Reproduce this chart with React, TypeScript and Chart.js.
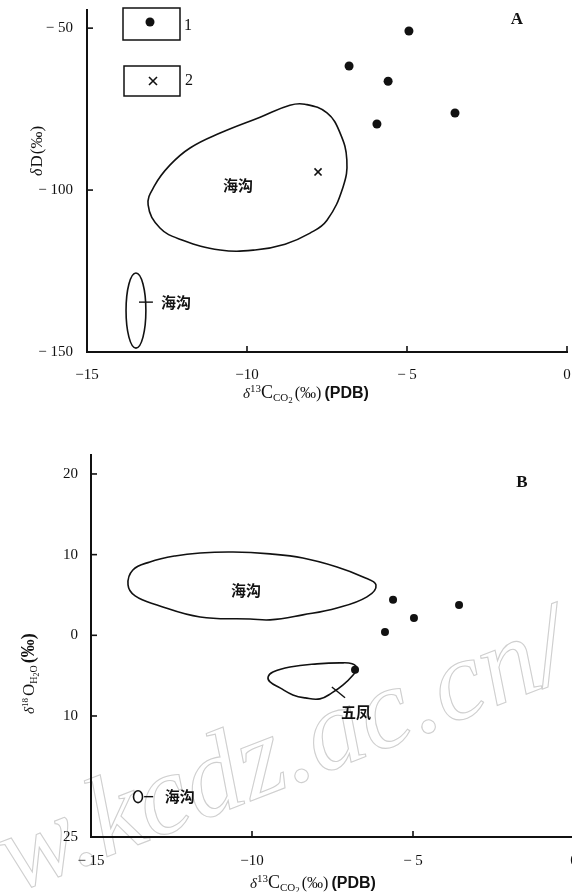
import React, { useEffect, useRef } from 'react';
import { Chart, registerables } from 'chart.js';

Chart.register(...registerables);

// ---------------- Panel A : δD vs δ13C(CO2) ----------------
const aXTicks = [-15, -10, -5, 0];
const aXTickLabels = ['−15', '−10', '− 5', '0'];
const aYTicks = [-150, -100, -50];
const aYTickLabels = ['− 150', '− 100', '− 50'];

// legend 1 : filled dots
const aDotX = [-4.94, -6.81, -5.59, -5.94, -3.5];
const aDotY = [-50.9, -61.7, -66.4, -79.6, -76.2];
// legend 2 : crosses
const aCrossX = [-7.78];
const aCrossY = [-94.4];

// outline of the large 海沟 field
const aFieldX = [-13.09, -12.88, -12.41, -11.78, -10.84, -9.59, -8.66, -8.19, -7.5, -7.09, -6.88, -7.0, -7.5, -8.03, -8.81, -9.75, -10.84, -12.03, -12.72];
const aFieldY = [-104.6, -98.5, -92.3, -87.0, -82.4, -77.5, -73.8, -73.5, -76.2, -82.4, -90.7, -99.1, -109.3, -113.3, -116.7, -118.5, -118.5, -115.4, -111.7];
// outline of the small 海沟 ellipse
const aSmallX = [-13.47, -13.25, -13.16, -13.25, -13.47, -13.69, -13.78, -13.69];
const aSmallY = [-125.6, -129.0, -137.2, -145.4, -148.8, -145.4, -137.2, -129.0];

const aLabels = [
  { text: '海沟', x: -10.28, y: -98.5 },
  { text: '海沟', x: -12.22, y: -134.6 },
];
const aLeaders = [{ x1: -13.375, y1: -134.6, x2: -12.94, y2: -134.6 }];

// ---------------- Panel B : δ18O(H2O) vs δ13C(CO2) ----------------
const bXTicks = [-15, -10, -5, 0];
const bXTickLabels = ['− 15', '−10', '− 5', '0'];
const bYTicks = [-25, -10, 0, 10, 20];
const bYTickLabels = ['25', '10', '0', '10', '20'];

const bDotX = [-5.62, -3.57, -4.97, -5.87, -6.8];
const bDotY = [4.4, 3.77, 2.15, 0.42, -4.28];

const bFieldX = [-13.85, -13.7, -13.17, -12.39, -11.61, -10.59, -9.44, -8.42, -7.36, -6.55, -6.15, -6.43, -7.36, -8.42, -9.44, -10.06, -11.61, -12.95, -13.63];
const bFieldY = [6.25, 8.1, 9.09, 9.84, 10.21, 10.33, 10.09, 9.59, 8.48, 7.24, 6.25, 4.76, 3.39, 2.53, 1.91, 2.03, 2.28, 3.77, 4.88];

const bWufengX = [-9.5, -9.35, -8.82, -7.98, -7.27, -6.89, -6.74, -6.86, -7.17, -7.52, -7.89, -8.35, -8.73, -9.13, -9.44];
const bWufengY = [-5.15, -4.54, -3.92, -3.54, -3.42, -3.54, -4.16, -4.91, -6.15, -7.14, -7.88, -7.76, -7.39, -6.52, -5.77];

const bSmallX = [-13.54, -13.44, -13.4, -13.44, -13.54, -13.64, -13.68, -13.64];
const bSmallY = [-19.26, -19.48, -20.0, -20.52, -20.74, -20.52, -20.0, -19.48];

const bLabels = [
  { text: '海沟', x: -10.19, y: 5.63 },
  { text: '五凤', x: -6.77, y: -9.6 },
  { text: '海沟', x: -12.24, y: -20.0 },
];
const bLeaders = [
  { x1: -7.52, y1: -6.4, x2: -7.11, y2: -7.75 },
  { x1: -13.35, y1: -20.0, x2: -13.07, y2: -20.0 },
];

const WATERMARK = 'www.kcdz.ac.cn/';

// ---------------- helpers ----------------
const SERIF = '"Liberation Serif", "DejaVu Serif", serif';
const SANS = '"Liberation Sans", Arial, sans-serif';
const CJK = '"Noto Sans CJK SC", sans-serif';
const INK = '#111';

const pts = (xs: number[], ys: number[]) => xs.map((x, i) => ({ x, y: ys[i] }));

function closedOutline(xs: number[], ys: number[]) {
  const p = pts(xs, ys);
  const data = [p[p.length - 1], ...p, p[0], p[1]];
  const last = data.length - 1;
  return {
    data,
    showLine: true,
    pointRadius: 0,
    pointHoverRadius: 0,
    borderColor: INK,
    borderWidth: 1.6,
    tension: 0.42,
    fill: false,
    segment: {
      borderColor: (ctx: any) =>
        ctx.p0DataIndex === 0 || ctx.p1DataIndex === last ? 'rgba(0,0,0,0)' : INK,
    },
  };
}

type Part = { t: string; f: string; dy?: number; gap?: number };
function drawRich(ctx: CanvasRenderingContext2D, parts: Part[], x: number, y: number) {
  let cx = x;
  ctx.textAlign = 'left';
  ctx.textBaseline = 'alphabetic';
  for (const p of parts) {
    ctx.font = p.f;
    ctx.fillText(p.t, cx, y + (p.dy || 0));
    cx += ctx.measureText(p.t).width + (p.gap || 0);
  }
}

const xTitleParts: Part[] = [
  { t: 'δ', f: `italic 15px ${SERIF}` },
  { t: '13', f: `11px ${SERIF}`, dy: -6 },
  { t: 'C', f: `18px ${SERIF}` },
  { t: 'CO', f: `11px ${SERIF}`, dy: 3 },
  { t: '2', f: `9px ${SERIF}`, dy: 5, gap: 2 },
  { t: '(‰)', f: `16px ${SERIF}`, gap: 3 },
  { t: '(PDB)', f: `bold 16px ${SANS}` },
];

function drawInnerTicks(chart: any) {
  const { ctx, chartArea, scales } = chart;
  ctx.save();
  ctx.strokeStyle = INK;
  ctx.lineWidth = 1.6;
  const xs = scales.x;
  const ys = scales.y;
  for (const t of xs.ticks) {
    if (t.value === xs.min) continue;
    const p = xs.getPixelForValue(t.value);
    ctx.beginPath();
    ctx.moveTo(p, chartArea.bottom);
    ctx.lineTo(p, chartArea.bottom - 6);
    ctx.stroke();
  }
  for (const t of ys.ticks) {
    if (t.value === ys.min) continue;
    const p = ys.getPixelForValue(t.value);
    ctx.beginPath();
    ctx.moveTo(chartArea.left, p);
    ctx.lineTo(chartArea.left + 6, p);
    ctx.stroke();
  }
  ctx.restore();
}

function drawLabels(chart: any, labels: any[], leaders: any[]) {
  const { ctx, scales } = chart;
  ctx.save();
  ctx.strokeStyle = INK;
  ctx.lineWidth = 1.4;
  for (const l of leaders) {
    ctx.beginPath();
    ctx.moveTo(scales.x.getPixelForValue(l.x1), scales.y.getPixelForValue(l.y1));
    ctx.lineTo(scales.x.getPixelForValue(l.x2), scales.y.getPixelForValue(l.y2));
    ctx.stroke();
  }
  ctx.fillStyle = INK;
  ctx.font = `bold 15px ${CJK}`;
  ctx.textAlign = 'center';
  ctx.textBaseline = 'middle';
  for (const l of labels) {
    ctx.fillText(l.text, scales.x.getPixelForValue(l.x), scales.y.getPixelForValue(l.y));
  }
  ctx.restore();
}

function baseOptions(o: any) {
  return {
    responsive: false,
    animation: false,
    events: [],
    layout: { padding: o.padding },
    plugins: { legend: { display: false }, tooltip: { enabled: false } },
    scales: {
      x: {
        type: 'linear',
        min: o.xMin,
        max: o.xMax,
        grid: { display: false },
        border: { display: true, color: INK, width: 2 },
        afterBuildTicks: (s: any) => {
          s.ticks = o.xTicks.map((v: number) => ({ value: v }));
        },
        afterFit: (s: any) => {
          s.height = o.xHeight;
          s.paddingLeft = 0;
          s.paddingRight = 0;
        },
        ticks: {
          autoSkip: false,
          maxRotation: 0,
          padding: o.xPad,
          color: INK,
          font: { family: SERIF, size: 15 },
          callback: (_v: any, i: number) => o.xLabels[i],
        },
      },
      y: {
        type: 'linear',
        min: o.yMin,
        max: o.yMax,
        grid: { display: false },
        border: { display: true, color: INK, width: 2 },
        afterBuildTicks: (s: any) => {
          s.ticks = o.yTicks.map((v: number) => ({ value: v }));
        },
        afterFit: (s: any) => {
          s.width = o.yWidth;
          s.paddingTop = 0;
          s.paddingBottom = 0;
        },
        ticks: {
          autoSkip: false,
          padding: o.yPad,
          color: INK,
          font: { family: SERIF, size: 15 },
          callback: (_v: any, i: number) => o.yLabels[i],
        },
      },
    },
  };
}

function PanelA() {
  const ref = useRef<HTMLCanvasElement>(null);
  useEffect(() => {
    const decor = {
      id: 'decorA',
      afterDraw(chart: any) {
        const { ctx, chartArea } = chart;
        drawInnerTicks(chart);
        drawLabels(chart, aLabels, aLeaders);
        ctx.save();
        ctx.fillStyle = INK;
        ctx.strokeStyle = INK;
        // legend boxes
        const L = chartArea.left;
        const T = chartArea.top;
        ctx.lineWidth = 1.5;
        ctx.strokeRect(L + 36, T - 2, 57, 32);
        ctx.strokeRect(L + 37, T + 56, 56, 30);
        ctx.beginPath();
        ctx.arc(L + 63, T + 12, 4.5, 0, Math.PI * 2);
        ctx.fill();
        ctx.lineWidth = 1.6;
        ctx.beginPath();
        ctx.moveTo(L + 62, T + 67);
        ctx.lineTo(L + 70, T + 75);
        ctx.moveTo(L + 70, T + 67);
        ctx.lineTo(L + 62, T + 75);
        ctx.stroke();
        ctx.font = `16px ${SERIF}`;
        ctx.textAlign = 'center';
        ctx.textBaseline = 'middle';
        ctx.fillText('1', L + 101, T + 16);
        ctx.fillText('2', L + 102, T + 71);
        // panel letter
        ctx.font = `bold 17px ${SERIF}`;
        ctx.fillText('A', 517, 20);
        // axis titles
        drawRich(ctx, xTitleParts, 243, 398);
        ctx.translate(42, 176);
        ctx.rotate(-Math.PI / 2);
        drawRich(
          ctx,
          [
            { t: 'δ', f: `italic 16px ${SERIF}`, gap: 1 },
            { t: 'D', f: `17px ${SERIF}`, gap: 1 },
            { t: '(‰)', f: `17px ${SERIF}` },
          ],
          0,
          0
        );
        ctx.restore();
      },
    };
    const chart = new Chart(ref.current as HTMLCanvasElement, {
      type: 'scatter',
      data: {
        datasets: [
          closedOutline(aFieldX, aFieldY) as any,
          closedOutline(aSmallX, aSmallY) as any,
          {
            data: pts(aDotX, aDotY),
            pointStyle: 'circle',
            pointRadius: 4.5,
            backgroundColor: INK,
            borderColor: INK,
            borderWidth: 0,
          },
          {
            data: pts(aCrossX, aCrossY),
            pointStyle: 'crossRot',
            pointRadius: 5,
            borderColor: INK,
            borderWidth: 1.6,
          },
        ],
      },
      options: baseOptions({
        padding: { left: 0, top: 10, right: 33, bottom: 0 },
        xMin: -15,
        xMax: 0,
        yMin: -150,
        yMax: -44.4,
        xTicks: aXTicks,
        xLabels: aXTickLabels,
        yTicks: aYTicks,
        yLabels: aYTickLabels,
        xHeight: 68,
        yWidth: 87,
        xPad: 6,
        yPad: 6,
      }) as any,
      plugins: [decor],
    });
    return () => chart.destroy();
  }, []);
  return (
    <canvas
      ref={ref}
      width={600}
      height={420}
      style={{ position: 'absolute', left: 0, top: 0, width: 600, height: 420 }}
    />
  );
}

function PanelB() {
  const ref = useRef<HTMLCanvasElement>(null);
  useEffect(() => {
    const watermark = {
      id: 'watermarkB',
      beforeDraw(chart: any) {
        const { ctx } = chart;
        ctx.save();
        ctx.translate(104, 428);
        ctx.rotate(-0.37);
        ctx.font = `italic 114px ${SERIF}`;
        ctx.strokeStyle = '#cfcfcf';
        ctx.lineWidth = 1.1;
        ctx.textBaseline = 'alphabetic';
        const head = 'www.';
        ctx.textAlign = 'right';
        ctx.strokeText(head, 0, 0);
        ctx.textAlign = 'left';
        ctx.strokeText(WATERMARK.slice(head.length), 0, 0);
        ctx.restore();
      },
    };
    const decor = {
      id: 'decorB',
      afterDraw(chart: any) {
        const { ctx } = chart;
        drawInnerTicks(chart);
        drawLabels(chart, bLabels, bLeaders);
        ctx.save();
        ctx.fillStyle = INK;
        ctx.font = `bold 17px ${SERIF}`;
        ctx.textAlign = 'center';
        ctx.textBaseline = 'middle';
        ctx.fillText('B', 522, 53);
        drawRich(ctx, xTitleParts, 250, 458);
        ctx.translate(34, 284);
        ctx.rotate(-Math.PI / 2);
        drawRich(
          ctx,
          [
            { t: 'δ', f: `italic 15px ${SERIF}` },
            { t: '18', f: `9px ${SERIF}`, dy: -6, gap: 2 },
            { t: 'O', f: `17px ${SERIF}` },
            { t: 'H', f: `10px ${SERIF}`, dy: 3 },
            { t: '2', f: `8px ${SERIF}`, dy: 5 },
            { t: 'O', f: `10px ${SERIF}`, dy: 3, gap: 2 },
            { t: '(‰)', f: `bold 18px ${SERIF}` },
          ],
          0,
          0
        );
        ctx.restore();
      },
    };
    const chart = new Chart(ref.current as HTMLCanvasElement, {
      type: 'scatter',
      data: {
        datasets: [
          closedOutline(bFieldX, bFieldY) as any,
          closedOutline(bWufengX, bWufengY) as any,
          closedOutline(bSmallX, bSmallY) as any,
          {
            data: pts(bDotX, bDotY),
            pointStyle: 'circle',
            pointRadius: 4,
            backgroundColor: INK,
            borderColor: INK,
            borderWidth: 0,
          },
        ],
      },
      options: baseOptions({
        padding: { left: 0, top: 25, right: 26, bottom: 0 },
        xMin: -15,
        xMax: 0,
        yMin: -25,
        yMax: 22.35,
        xTicks: bXTicks,
        xLabels: bXTickLabels,
        yTicks: bYTicks,
        yLabels: bYTickLabels,
        xHeight: 55,
        yWidth: 91,
        xPad: 7,
        yPad: 5,
      }) as any,
      plugins: [watermark, decor],
    });
    return () => chart.destroy();
  }, []);
  return (
    <canvas
      ref={ref}
      width={600}
      height={462}
      style={{ position: 'absolute', left: 0, top: 430, width: 600, height: 462 }}
    />
  );
}

export default function App() {
  return (
    <div
      style={{
        position: 'absolute',
        left: 0,
        top: 0,
        width: 572,
        height: 892,
        overflow: 'hidden',
        background: '#fff',
      }}
    >
      <PanelA />
      <PanelB />
    </div>
  );
}
